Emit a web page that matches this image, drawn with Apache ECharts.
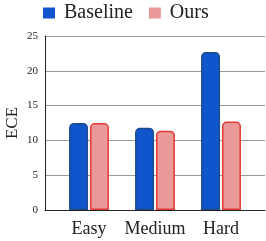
<!DOCTYPE html>
<html><head><meta charset="utf-8">
<script src="https://cdn.jsdelivr.net/npm/echarts@6/dist/echarts.min.js"></script>
<style>html,body{margin:0;padding:0;background:#fff}#c{width:266px;height:241px}</style>
</head><body><div id="c"></div>
<script>
const categories = ['Easy', 'Medium', 'Hard'];
const baseline = [12.5, 11.8, 22.7];
const ours = [12.5, 11.4, 12.7];
const yTicks = [0, 5, 10, 15, 20, 25];

const font = 'Liberation Serif, Times New Roman, serif';
const chart = echarts.init(document.getElementById('c'));
chart.setOption({
  animation: false,
  legend: {
    data: ['Baseline', 'Ours'], top: -2, left: 38, itemWidth: 12, itemHeight: 11, itemGap: 16,
    icon: 'rect',
    itemStyle: { borderWidth: 0 },
    textStyle: { fontFamily: font, fontSize: 20, color: '#222', padding: [0, 0, 0, 4] }
  },
  grid: [
    { left: 45, right: 1, top: 36, bottom: 31, containLabel: false, outerBoundsMode: 'none' },
    { left: 56, right: 12, top: 36, bottom: 31, containLabel: false, outerBoundsMode: 'none' }
  ],
  xAxis: [
    { gridIndex: 0, type: 'value', min: 0, max: 1, show: true,
      axisLine: { show: true, onZero: false, lineStyle: { color: '#222', width: 1 } },
      axisTick: { show: false }, axisLabel: { show: false }, splitLine: { show: false } },
    { gridIndex: 1, type: 'category', data: categories,
      axisLine: { show: false }, axisTick: { show: false },
      axisLabel: { interval: 0, fontFamily: font, fontSize: 18, color: '#222', margin: 10 } }
  ],
  yAxis: [
    { gridIndex: 0, type: 'value', min: 0, max: 25, interval: 5,
      name: 'ECE', nameLocation: 'middle', nameGap: 24, nameRotate: 90, nameMoveOverlap: false,
      nameTextStyle: { fontFamily: font, fontSize: 17, color: '#222' },
      axisLine: { show: true, onZero: false, lineStyle: { color: '#222' } },
      axisTick: { show: false },
      axisLabel: { fontFamily: font, fontSize: 11, color: '#222', margin: 7,
        formatter: v => yTicks.includes(v) ? String(v) : '' },
      splitLine: { show: true, lineStyle: { color: '#999', width: 1 } } },
    { gridIndex: 1, type: 'value', min: 0, max: 25, show: false }
  ],
  series: [
    { name: 'Baseline', type: 'bar', xAxisIndex: 1, yAxisIndex: 1, data: baseline,
      barWidth: 19, barGap: '10%',
      itemStyle: { color: '#1155CC', borderColor: '#1E4D8F', borderWidth: 1.5, borderRadius: [4, 4, 0, 0] } },
    { name: 'Ours', type: 'bar', xAxisIndex: 1, yAxisIndex: 1, data: ours,
      barWidth: 19,
      itemStyle: { color: '#EA9999', borderColor: '#E53935', borderWidth: 1.5, borderRadius: [4, 4, 0, 0] } }
  ]
});
</script></body></html>
